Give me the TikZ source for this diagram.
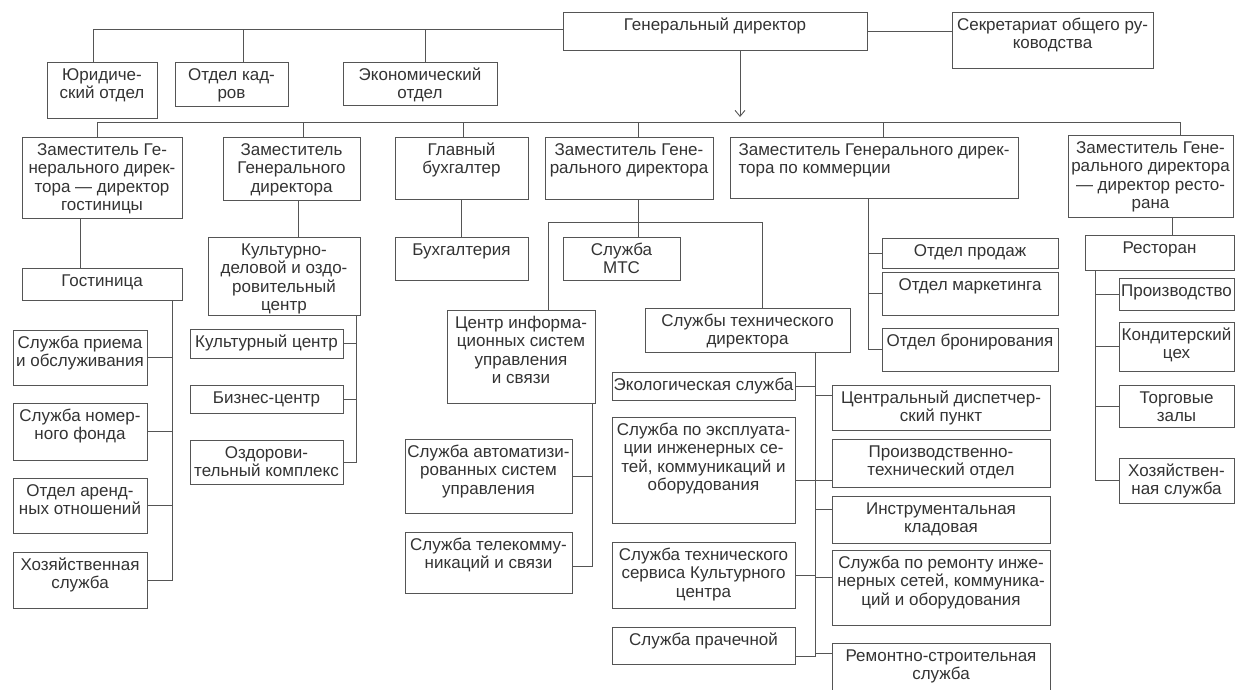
\documentclass[tikz,border=0pt]{standalone}
\usepackage{fontspec}
\setmainfont{Liberation Sans}
\usetikzlibrary{arrows.meta}
\definecolor{ink}{HTML}{333333}
\definecolor{edge}{HTML}{555555}
\tikzset{
 boxs/.style={draw=edge, line width=0.9pt, inner sep=0pt, outer sep=0pt, anchor=north west},
 txt/.style={anchor=north, align=center, inner sep=0pt, text=ink, font=\fontsize{17}{18.5}\selectfont},
 ln/.style={draw=edge, line width=0.9pt},
}
\newcommand{\obox}[7][]{%
 \node[boxs, minimum width={#5pt-#3pt}, minimum height={#6pt-#4pt}] (#2) at (#3,#4) {};
 \node[txt, yshift=-5pt, #1] (#2t) at (#2.north) {\strut #7};
}
\begin{document}
\begin{tikzpicture}[x=1pt,y=-1pt]
\useasboundingbox (0,0) rectangle (1236,689);
% ---- top level
\obox{gd}{563}{12}{867}{50}{Генеральный директор}
\obox{sec}{952}{12}{1153}{68}{Секретариат общего ру-\\ководства}
\obox{ur}{47}{62}{157}{118}{Юридиче-\\ский отдел}
\obox{kadr}{175}{62}{288}{106}{Отдел кад-\\ров}
\obox{econ}{343}{62}{497}{105}{Экономический\\отдел}
\coordinate (tb1) at (93,29);
\coordinate (tb2) at (243,29);
\coordinate (tb3) at (425,29);
\draw[ln] (ur.north -| tb1) -- (tb1) -- (tb1 -| gd.west);
\draw[ln] (tb2) -- (tb2 |- kadr.north);
\draw[ln] (tb3) -- (tb3 |- econ.north);
\draw[ln] (gd.east) -- (gd.east -| sec.west);
% ---- second level
\obox{z1}{22}{137}{182}{218}{Заместитель Ге-\\нерального дирек-\\тора — директор\\гостиницы}
\obox{z2}{223}{137}{360}{200}{Заместитель\\Генерального\\директора}
\obox{z3}{395}{137}{528}{199}{Главный\\бухгалтер}
\obox{z4}{545}{137}{713}{199}{Заместитель Гене-\\рального директора}
\obox[align=left]{z5}{730}{137}{1018}{198}{Заместитель Генерального дирек-\\тора по коммерции}
\obox{z6}{1068}{135}{1233}{217}{Заместитель Гене-\\рального директора\\— директор ресто-\\рана}
\coordinate (arr) at (740,117);
\draw[ln, -{Straight Barb[length=6pt,width=10pt]}] (gd.south -| arr) -- (arr);
\coordinate (b1) at (97,122);
\coordinate (b2) at (303,122);
\coordinate (b3) at (463,122);
\coordinate (b4) at (638,122);
\coordinate (b5) at (883,122);
\coordinate (b6) at (1180,122);
\draw[ln] (b1 |- z1.north) -- (b1) -- (b6) -- (b6 |- z6.north);
\foreach \i in {2,3,4,5} \draw[ln] (b\i) -- (b\i |- z\i.north);
% ---- hotel
\obox{gost}{22}{268}{182}{300}{Гостиница}
\coordinate (hv0) at (80,0);
\draw[ln] (z1.south -| hv0) -- (gost.north -| hv0);
\obox{h1}{13}{330}{147}{385}{Служба приема\\и обслуживания}
\obox{h2}{13}{403}{147}{460}{Служба номер-\\ного фонда}
\obox{h3}{13}{478}{147}{533}{Отдел аренд-\\ных отношений}
\obox{h4}{13}{552}{147}{608}{Хозяйственная\\служба}
\coordinate (hv) at (172,0);
\draw[ln] (gost.south -| hv) |- (h4.east);
\foreach \nm in {h1,h2,h3} \draw[ln] (\nm.east) -- (\nm.east -| hv);
% ---- culture
\obox{kdo}{208}{237}{360}{315}{Культурно-\\деловой и оздо-\\ровительный\\центр}
\coordinate (cx) at (298,0);
\draw[ln] (z2.south -| cx) -- (kdo.north -| cx);
\obox{k1}{190}{329}{343}{358}{Культурный центр}
\obox{k2}{190}{385}{343}{413}{Бизнес-центр}
\obox{k3}{190}{440}{343}{484}{Оздорови-\\тельный комплекс}
\coordinate (cv) at (356,0);
\draw[ln] (kdo.south -| cv) |- (k3.east);
\foreach \nm in {k1,k2} \draw[ln] (\nm.east) -- (\nm.east -| cv);
% ---- accounting
\obox{buh}{395}{237}{528}{280}{Бухгалтерия}
\draw[ln] (z3.south) -- (z3.south |- buh.north);
% ---- centre deputy
\obox{mts}{563}{237}{680}{280}{Служба\\МТС}
\coordinate (c4) at (638,0);
\draw[ln] (z4.south -| c4) -- (mts.north -| c4);
\obox{cis}{447}{310}{595}{403}{Центр информа-\\ционных систем\\управления\\и связи}
\obox{std}{645}{308}{850}{352}{Службы технического\\директора}
\coordinate (cl) at (548,222);
\coordinate (cr) at (762,222);
\draw[ln] (cis.north -| cl) -- (cl) -- (cr) -- (std.north -| cr);
\obox{i1}{405}{439}{572}{513}{Служба автоматизи-\\рованных систем\\управления}
\obox{i2}{405}{532}{572}{593}{Служба телекомму-\\никаций и связи}
\coordinate (iv) at (592,0);
\draw[ln] (cis.south -| iv) |- ([yshift=-4pt]i2.east);
\draw[ln] (i1.east) -- (i1.east -| iv);
% ---- technical services
\obox{t1}{612}{372}{795}{400}{Экологическая служба}
\obox{t2}{612}{417}{795}{523}{Служба по эксплуата-\\ции инженерных се-\\тей, коммуникаций и\\оборудования}
\obox{t3}{612}{542}{795}{608}{Служба технического\\сервиса Культурного\\центра}
\obox{t4}{612}{627}{795}{664}{Служба прачечной}
\obox{r1}{832}{385}{1050}{430}{Центральный диспетчер-\\ский пункт}
\obox{r2}{832}{439}{1050}{487}{Производственно-\\технический отдел}
\obox{r3}{832}{496}{1050}{543}{Инструментальная\\кладовая}
\obox{r4}{832}{550}{1050}{625}{Служба по ремонту инже-\\нерных сетей, коммуника-\\ций и оборудования}
\obox{r5}{832}{643}{1050}{700}{Ремонтно-строительная\\служба}
\coordinate (tv) at (815,0);
\draw[ln] (std.south -| tv) -- ([yshift=-11pt]t4.east -| tv) -- ([yshift=-11pt]t4.east);
\draw[ln] (t1.east) -- (t1.east -| tv);
\draw[ln] ([yshift=-10pt]t2.east) -- ([yshift=-10pt]t2.east -| tv);
\draw[ln] (t3.east) -- (t3.east -| tv);
\draw[ln] ([yshift=12pt]r1.west) -- ([yshift=12pt]r1.west -| tv);
\draw[ln] ([yshift=-17pt]r2.west) -- ([yshift=-17pt]r2.west -| tv);
\draw[ln] ([yshift=10pt]r3.west) -- ([yshift=10pt]r3.west -| tv);
\draw[ln] ([yshift=10pt]r4.west) -- ([yshift=10pt]r4.west -| tv);
\draw[ln] ([yshift=-10pt]r5.north west) -- ([yshift=-10pt]r5.north west -| tv);
% ---- commerce
\obox{m1}{882}{238}{1058}{268}{Отдел продаж}
\obox{m2}{882}{272}{1058}{315}{Отдел маркетинга}
\obox{m3}{882}{328}{1058}{371}{Отдел бронирования}
\coordinate (kv) at (868,0);
\draw[ln] (z5.south -| kv) |- (m3.west);
\foreach \nm in {m1,m2} \draw[ln] (\nm.west) -- (\nm.west -| kv);
% ---- restaurant
\obox{p0}{1085}{235}{1234}{270}{Ресторан}
\coordinate (rv0) at (1172,0);
\draw[ln] (z6.south -| rv0) -- (p0.north -| rv0);
\obox{p1}{1119}{278}{1234}{310}{Производство}
\obox{p2}{1119}{322}{1234}{371}{Кондитерский\\цех}
\obox{p3}{1119}{385}{1234}{427}{Торговые\\залы}
\obox{p4}{1119}{458}{1234}{503}{Хозяйствен-\\ная служба}
\coordinate (rv) at (1095,0);
\draw[ln] (p0.south -| rv) |- (p4.west);
\foreach \nm in {p1,p2,p3} \draw[ln] (\nm.west) -- (\nm.west -| rv);
\end{tikzpicture}
\end{document}
